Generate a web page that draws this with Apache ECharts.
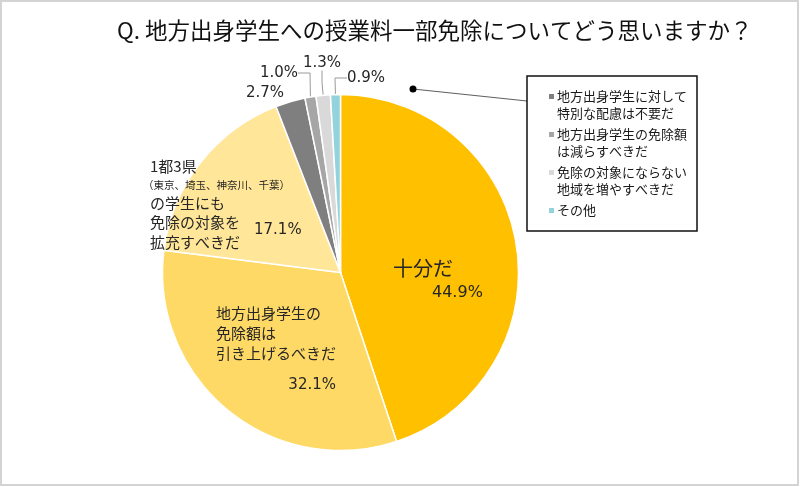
<!DOCTYPE html>
<html><head><meta charset="utf-8">
<script src="https://cdn.jsdelivr.net/npm/echarts@6/dist/echarts.min.js"></script>
<style>html,body{margin:0;padding:0;background:#fff}#c{width:800px;height:487px}</style>
</head><body><div id="c"></div>
<script>
const titleText = 'Q. 地方出身学生への授業料一部免除についてどう思いますか？';
const categories = [
  '十分だ',
  '地方出身学生の免除額は引き上げるべきだ',
  '1都3県（東京、埼玉、神奈川、千葉）の学生にも免除の対象を拡充すべきだ',
  '地方出身学生に対して特別な配慮は不要だ',
  '地方出身学生の免除額は減らすべきだ',
  '免除の対象にならない地域を増やすべきだ',
  'その他'
];
const values = [44.9, 32.1, 17.1, 2.7, 1.0, 1.3, 0.9];
const colors = ['#FFC000', '#FFD966', '#FFE699', '#7F7F7F', '#A6A6A6', '#D9D9D9', '#92D3DD'];
const legendLines = [
  ['地方出身学生に対して', '特別な配慮は不要だ'],
  ['地方出身学生の免除額', 'は減らすべきだ'],
  ['免除の対象にならない', '地域を増やすべきだ'],
  ['その他']
];
// label anchor positions (layout only)
const labelPos = [
  [393, 255, 'left', 'top'],
  [216, 303, 'left', 'top'],
  [143, 157, 'left', 'top'],
  [246, 93, 'left', 'middle'],
  [298, 73, 'right', 'middle'],
  [322, 63, 'center', 'middle'],
  [347, 78, 'left', 'middle']
];

const JP = '"Noto Sans CJK JP", "Noto Sans", sans-serif';
const NUM = '"DejaVu Sans", "Noto Sans CJK JP", sans-serif';
const TXT = '#262626';
const pct = v => v.toFixed(1) + '%';

function labelFormatter(p) {
  const i = p.dataIndex, v = pct(values[i]);
  if (i === 0) return '{a|十分だ}\n{p0|' + v + '}';
  if (i === 1) return '{t|地方出身学生の}\n{t|免除額は}\n{t|引き上げるべきだ}\n{p1|' + v + '}';
  if (i === 2) return '{u|1都3県}\n{s|（東京、埼玉、神奈川、千葉）}\n{u|の学生にも}\n{u|免除の対象を}{p2|' + v + '}\n{u|拡充すべきだ}';
  return '{q|' + v + '}';
}

const legendRich = {
  t: {fontFamily: JP, fontSize: 13, lineHeight: 17, color: '#1a1a1a'},
  g: {width: 3, height: 5},
  sp: {width: 8, height: 5}
};
legendLines.forEach((l, k) => {
  legendRich['m' + k] = {width: 5, height: 5, backgroundColor: colors[3 + k]};
});

const chart = echarts.init(document.getElementById('c'), null, {renderer: 'canvas'});
chart.setOption({
  animation: false,
  backgroundColor: '#fff',
  title: {
    text: titleText, left: 117, top: 19, padding: 0,
    textStyle: {fontFamily: JP, fontSize: 22.5, fontWeight: 'normal', color: '#111', lineHeight: 22}
  },
  legend: {
    data: categories.slice(3),
    orient: 'vertical', left: 527, top: 76,
    padding: [14, 10, 14, 15],
    borderColor: '#111', borderWidth: 1.5,
    itemWidth: 1, itemHeight: 1, itemGap: 8,
    icon: 'rect', itemStyle: {opacity: 0},
    selectedMode: false,
    formatter: function (name) {
      const k = categories.indexOf(name) - 3;
      return legendLines[k].map((s, j) => (j === 0 ? '{m' + k + '|}{g|}' : '{sp|}') + '{t|' + s + '}').join('\n');
    },
    textStyle: {rich: legendRich}
  },
  graphic: [
    {type: 'rect', shape: {x: 1, y: 1, width: 797, height: 484}, style: {fill: 'none', stroke: '#d4d4d4', lineWidth: 2}, silent: true},
    {type: 'line', shape: {x1: 413, y1: 89, x2: 527, y2: 101}, style: {stroke: '#333', lineWidth: 0.8}, silent: true},
    {type: 'circle', shape: {cx: 413, cy: 89, r: 3.5}, style: {fill: '#000'}, silent: true}
  ],
  series: [{
    type: 'pie',
    center: [340.5, 272.5],
    radius: 178,
    startAngle: 90,
    clockwise: true,
    avoidLabelOverlap: false,
    emphasis: {disabled: true},
    itemStyle: {borderColor: '#fff', borderWidth: 1.5},
    label: {
      show: true, position: 'outside', formatter: labelFormatter, color: TXT,
      rich: {
        a: {fontFamily: JP, fontSize: 20, lineHeight: 26, color: TXT},
        p0: {fontFamily: NUM, fontSize: 16, lineHeight: 24, padding: [0, 0, 0, 39], color: TXT},
        t: {fontFamily: JP, fontSize: 15, lineHeight: 20, color: TXT},
        p1: {fontFamily: NUM, fontSize: 15, lineHeight: 44, align: 'right', color: TXT},
        u: {fontFamily: JP, fontSize: 15, lineHeight: 19.5, padding: [0, 0, 0, 7], color: TXT},
        s: {fontFamily: JP, fontSize: 10.5, lineHeight: 17, color: TXT},
        p2: {fontFamily: NUM, fontSize: 15, lineHeight: 19.5, padding: [14, 0, 0, 14], color: TXT},
        q: {fontFamily: NUM, fontSize: 15, lineHeight: 18, color: TXT}
      }
    },
    labelLine: {show: true, length: 10, length2: 12, minTurnAngle: 60, lineStyle: {color: '#9a9a9a', width: 1}},
    labelLayout: function (params) {
      const lp = labelPos[params.dataIndex];
      return {x: lp[0], y: lp[1], align: lp[2], verticalAlign: lp[3]};
    },
    data: categories.map((n, i) => ({
      name: n, value: values[i],
      itemStyle: {color: colors[i]},
      labelLine: {show: i >= 4}
    }))
  }]
});
</script>
</body></html>
